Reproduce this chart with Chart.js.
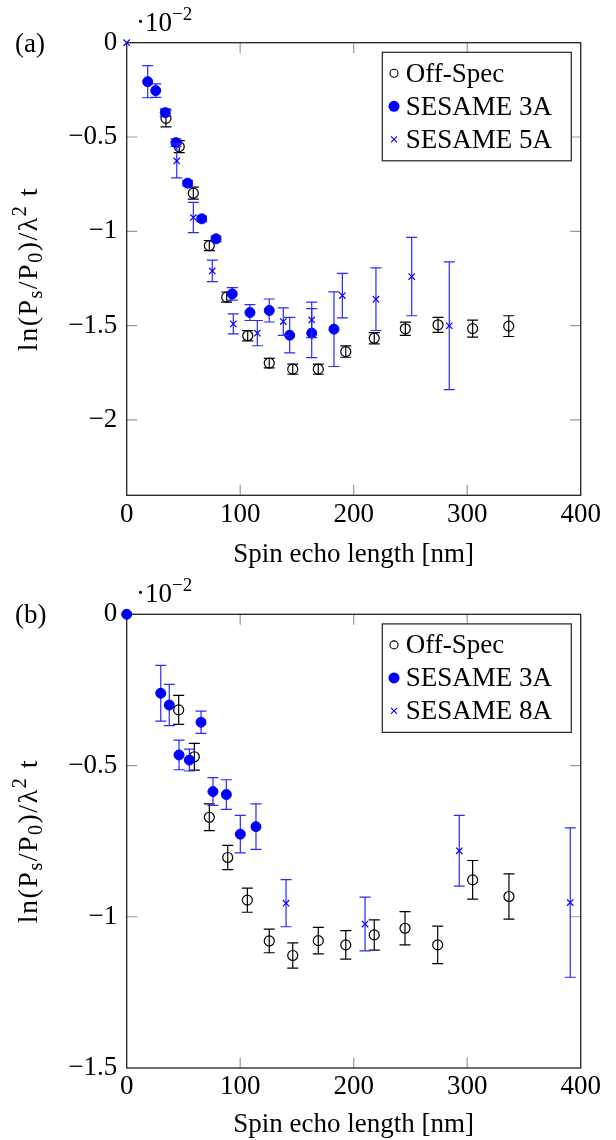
<!DOCTYPE html>
<html>
<head>
<meta charset="utf-8">
<script src="https://cdn.jsdelivr.net/npm/chart.js@4.4.1/dist/chart.umd.min.js"></script>
<style>
  html, body { margin: 0; padding: 0; background: #fff; }
  .panel { width: 616px; height: 570px; }
  canvas { display: block; }
</style>
</head>
<body>
<div class="panel"><canvas id="chartA" width="616" height="570"></canvas></div>
<div class="panel"><canvas id="chartB" width="616" height="570"></canvas></div>
<script>
// axis ticks
const xTicks = [0, 100, 200, 300, 400];
const yTicksA = [0, -0.5, -1, -1.5, -2];
const yTicksB = [0, -0.5, -1, -1.5];

// panel (a)
const offSpecAX = [34.6, 46.3, 58.7, 72.8, 88.1, 106.6, 125.6, 146.3, 168.8, 193.0, 218.1, 245.5, 274.3, 304.8, 336.6];
const offSpecAY = [-0.401, -0.551, -0.798, -1.076, -1.349, -1.554, -1.699, -1.731, -1.731, -1.638, -1.567, -1.517, -1.496, -1.516, -1.503];
const offSpecAErr = [0.045, 0.032, 0.032, 0.027, 0.027, 0.027, 0.025, 0.027, 0.027, 0.03, 0.03, 0.035, 0.04, 0.045, 0.055];

const sesame3AX = [18.5, 25.6, 34.0, 43.4, 53.7, 66.1, 78.7, 93.0, 108.6, 125.6, 143.6, 163.0, 182.6];
const sesame3AY = [-0.207, -0.254, -0.371, -0.530, -0.745, -0.934, -1.040, -1.332, -1.431, -1.420, -1.551, -1.540, -1.519];
const sesame3AErr = [0.085, 0.036, 0.02, 0.02, 0.015, 0.015, 0.015, 0.033, 0.042, 0.061, 0.094, 0.13, 0.198];

const sesame5AX = [0, 44.1, 58.7, 75.4, 93.9, 115.1, 138.0, 163.0, 190.0, 219.6, 251.1, 284.2];
const sesame5AY = [0, -0.627, -0.927, -1.210, -1.491, -1.540, -1.479, -1.470, -1.341, -1.360, -1.240, -1.501];
const sesame5AErr = [0, 0.09, 0.08, 0.057, 0.053, 0.067, 0.073, 0.094, 0.118, 0.166, 0.208, 0.339];

// panel (b)
const offSpecBX = [45.8, 59.6, 72.8, 89.0, 106.3, 125.6, 146.3, 168.8, 193.0, 218.1, 245.2, 274.0, 304.8, 336.8];
const offSpecBY = [-0.316, -0.471, -0.671, -0.804, -0.945, -1.080, -1.128, -1.079, -1.093, -1.060, -1.038, -1.093, -0.878, -0.933];
const offSpecBErr = [0.048, 0.044, 0.044, 0.040, 0.040, 0.039, 0.042, 0.044, 0.047, 0.050, 0.055, 0.062, 0.064, 0.075];

const sesame3BX = [0, 30.0, 37.5, 46.1, 55.2, 65.5, 76.0, 87.8, 100.1, 113.9];
const sesame3BY = [0, -0.261, -0.300, -0.465, -0.482, -0.357, -0.586, -0.596, -0.727, -0.702];
const sesame3BErr = [0, 0.092, 0.068, 0.049, 0.036, 0.037, 0.046, 0.049, 0.062, 0.075];

const sesame8AX = [140.4, 210.0, 293.0, 390.8];
const sesame8AY = [-0.955, -1.024, -0.782, -0.953];
const sesame8AErr = [0.078, 0.089, 0.117, 0.247];

const FONT = "'Liberation Serif', 'DejaVu Serif', serif";
const SIZE = 27;
const BLUE = '#0000ff';

Chart.defaults.font.family = FONT;
Chart.defaults.color = '#000';

function points(xs, ys, errs) {
    return xs.map((x, i) => ({ x, y: ys[i], err: errs[i] }));
}

function offSpec(xs, ys, errs) {
    return {
        label: 'Off-Spec',
        data: points(xs, ys, errs),
        pointStyle: 'circle',
        pointRadius: 5,
        pointBorderWidth: 1.2,
        pointBorderColor: '#000',
        pointBackgroundColor: 'rgba(0,0,0,0)',
        errColor: '#000',
        marker: 'open',
        clip: false,
        order: 3,
    };
}

function sesame3(xs, ys, errs) {
    return {
        label: 'SESAME 3A',
        data: points(xs, ys, errs),
        pointStyle: 'circle',
        pointRadius: 5,
        pointBorderWidth: 1,
        pointBorderColor: BLUE,
        pointBackgroundColor: BLUE,
        errColor: '#2a2aff',
        marker: 'filled',
        clip: false,
        order: 2,
    };
}

function sesameX(label, xs, ys, errs) {
    return {
        label,
        data: points(xs, ys, errs),
        pointStyle: 'crossRot',
        pointRadius: 4.5,
        pointBorderWidth: 1.2,
        pointBorderColor: BLUE,
        pointBackgroundColor: BLUE,
        errColor: '#2a2aff',
        marker: 'cross',
        clip: false,
        order: 1,
    };
}

// vertical error bars, drawn just under each dataset's markers
const errorBars = {
    id: 'errorBars',
    beforeDatasetDraw(chart, args) {
        const ds = chart.data.datasets[args.index];
        const { ctx, scales: { x, y } } = chart;
        ctx.save();
        ctx.strokeStyle = ds.errColor;
        ctx.lineWidth = 1.2;
        ctx.beginPath();
        ds.data.forEach((p) => {
            if (!p.err) {
                return;
            }
            const px = x.getPixelForValue(p.x);
            const top = y.getPixelForValue(p.y + p.err);
            const bot = y.getPixelForValue(p.y - p.err);
            ctx.moveTo(px, top);
            ctx.lineTo(px, bot);
            ctx.moveTo(px - 5.5, top);
            ctx.lineTo(px + 5.5, top);
            ctx.moveTo(px - 5.5, bot);
            ctx.lineTo(px + 5.5, bot);
        });
        ctx.stroke();
        ctx.restore();
    },
};

// pgfplots style box with inward ticks
const frame = {
    id: 'frame',
    beforeDatasetsDraw(chart) {
        const { ctx, chartArea: a, scales: { x, y } } = chart;
        ctx.save();
        ctx.strokeStyle = '#9a9a9a';
        ctx.lineWidth = 1.2;
        ctx.beginPath();
        x.ticks.forEach((t) => {
            if (t.value <= x.min || t.value >= x.max) {
                return;
            }
            const px = x.getPixelForValue(t.value);
            ctx.moveTo(px, a.top);
            ctx.lineTo(px, a.top + 10.5);
            ctx.moveTo(px, a.bottom);
            ctx.lineTo(px, a.bottom - 10.5);
        });
        y.ticks.forEach((t) => {
            if (t.value <= y.min || t.value >= y.max) {
                return;
            }
            const py = y.getPixelForValue(t.value);
            ctx.moveTo(a.left, py);
            ctx.lineTo(a.left + 10.5, py);
            ctx.moveTo(a.right, py);
            ctx.lineTo(a.right - 10.5, py);
        });
        ctx.stroke();
        ctx.strokeStyle = '#222';
        ctx.lineWidth = 1.3;
        ctx.strokeRect(a.left, a.top, a.right - a.left, a.bottom - a.top);
        ctx.restore();
    },
};

function setFont(ctx, p, size) {
    ctx.font = `${p.sub || p.sup ? Math.round(size * 0.7) : size}px ${FONT}`;
}

function richWidth(ctx, parts, size) {
    return parts.reduce((s, p) => {
        setFont(ctx, p, size);
        return s + ctx.measureText(p.t).width;
    }, 0);
}

function drawRich(ctx, parts, x, y, size) {
    let cx = x;
    parts.forEach((p) => {
        setFont(ctx, p, size);
        const dy = p.sub ? 5 : p.sup ? -11 : 0;
        ctx.fillText(p.t, cx, y + dy);
        cx += ctx.measureText(p.t).width;
    });
}

const yTitleParts = [
    { t: 'ln(P' }, { t: 's', sub: true }, { t: '/P' }, { t: '0', sub: true },
    { t: ')/λ' }, { t: '2', sup: true }, { t: ' t' },
];

function drawMarker(ctx, kind, x, y) {
    ctx.beginPath();
    if (kind === 'open') {
        ctx.strokeStyle = '#000';
        ctx.lineWidth = 1.1;
        ctx.arc(x, y, 4, 0, Math.PI * 2);
        ctx.stroke();
    } else if (kind === 'filled') {
        ctx.fillStyle = BLUE;
        ctx.arc(x, y, 5.5, 0, Math.PI * 2);
        ctx.fill();
    } else {
        ctx.strokeStyle = BLUE;
        ctx.lineWidth = 1.1;
        ctx.moveTo(x - 3, y - 3);
        ctx.lineTo(x + 3, y + 3);
        ctx.moveTo(x - 3, y + 3);
        ctx.lineTo(x + 3, y - 3);
        ctx.stroke();
    }
}

// panel label, exponent, rotated y title and legend
const decorations = {
    id: 'decorations',
    afterDraw(chart, args, opts) {
        const { ctx, chartArea: a } = chart;
        ctx.save();
        ctx.fillStyle = '#000';
        ctx.textBaseline = 'alphabetic';
        ctx.textAlign = 'left';

        ctx.font = `${SIZE}px ${FONT}`;
        ctx.fillText(opts.panel, 15, a.top + 9);

        drawRich(ctx, [{ t: '·10' }, { t: '−2', sup: true }], 136, a.top - 12, SIZE);

        ctx.save();
        ctx.translate(28, (a.top + a.bottom) / 2);
        ctx.rotate(-Math.PI / 2);
        ctx.letterSpacing = '1.5px';
        const w = richWidth(ctx, yTitleParts, 28);
        drawRich(ctx, yTitleParts, -w / 2, 9, 28);
        ctx.restore();

        const bx = a.right - 198.4;
        const by = a.top + 9.6;
        ctx.fillStyle = '#fff';
        ctx.fillRect(bx, by, 189, 108.5);
        ctx.strokeStyle = '#222';
        ctx.lineWidth = 1.2;
        ctx.strokeRect(bx, by, 189, 108.5);
        chart.data.datasets.forEach((ds, i) => {
            const ry = by + 21 + i * 33;
            drawMarker(ctx, ds.marker, bx + 11.7, ry);
            ctx.fillStyle = '#000';
            ctx.font = `${SIZE}px ${FONT}`;
            ctx.fillText(ds.label, bx + 23.5, ry + 8.5);
        });
        ctx.restore();
    },
};

function makeChart(id, datasets, cfg) {
    const font = { family: FONT, size: SIZE };
    return new Chart(document.getElementById(id), {
        type: 'scatter',
        data: { datasets },
        plugins: [frame, errorBars, decorations],
        options: {
            responsive: false,
            animation: false,
            devicePixelRatio: 1,
            layout: { padding: { top: cfg.top, right: 35.3, left: 0, bottom: 0 } },
            plugins: {
                legend: { display: false },
                tooltip: { enabled: false },
                decorations: { panel: cfg.panel },
            },
            scales: {
                x: {
                    type: 'linear',
                    min: 0,
                    max: 400,
                    grid: { display: false, drawTicks: false },
                    border: { display: false },
                    afterBuildTicks: (s) => { s.ticks = xTicks.map((v) => ({ value: v })); },
                    afterFit: (s) => { s.height = cfg.xHeight; },
                    ticks: { padding: 3, font, color: '#000', maxRotation: 0, autoSkip: false },
                    title: {
                        display: true,
                        text: 'Spin echo length [nm]',
                        color: '#000',
                        font: { family: FONT, size: SIZE, lineHeight: 1 },
                        padding: { top: 0, bottom: 1.5 },
                    },
                },
                y: {
                    type: 'linear',
                    min: cfg.yMin,
                    max: 0,
                    grid: { display: false, drawTicks: false },
                    border: { display: false },
                    afterBuildTicks: (s) => { s.ticks = cfg.yTicks.map((v) => ({ value: v })); },
                    afterFit: (s) => { s.width = 126.7; },
                    ticks: {
                        padding: 9.5,
                        font,
                        color: '#000',
                        callback: (v) => (v === 0 ? '0' : '−' + Math.abs(v)),
                    },
                },
            },
        },
    });
}

makeChart('chartA', [
    offSpec(offSpecAX, offSpecAY, offSpecAErr),
    sesame3(sesame3AX, sesame3AY, sesame3AErr),
    sesameX('SESAME 5A', sesame5AX, sesame5AY, sesame5AErr),
], { panel: '(a)', top: 42.7, xHeight: 74.7, yMin: -2.4, yTicks: yTicksA });

makeChart('chartB', [
    offSpec(offSpecBX, offSpecBY, offSpecBErr),
    sesame3(sesame3BX, sesame3BY, sesame3BErr),
    sesameX('SESAME 8A', sesame8AX, sesame8AY, sesame8AErr),
], { panel: '(b)', top: 44.3, xHeight: 72, yMin: -1.5, yTicks: yTicksB });
</script>
</body>
</html>
